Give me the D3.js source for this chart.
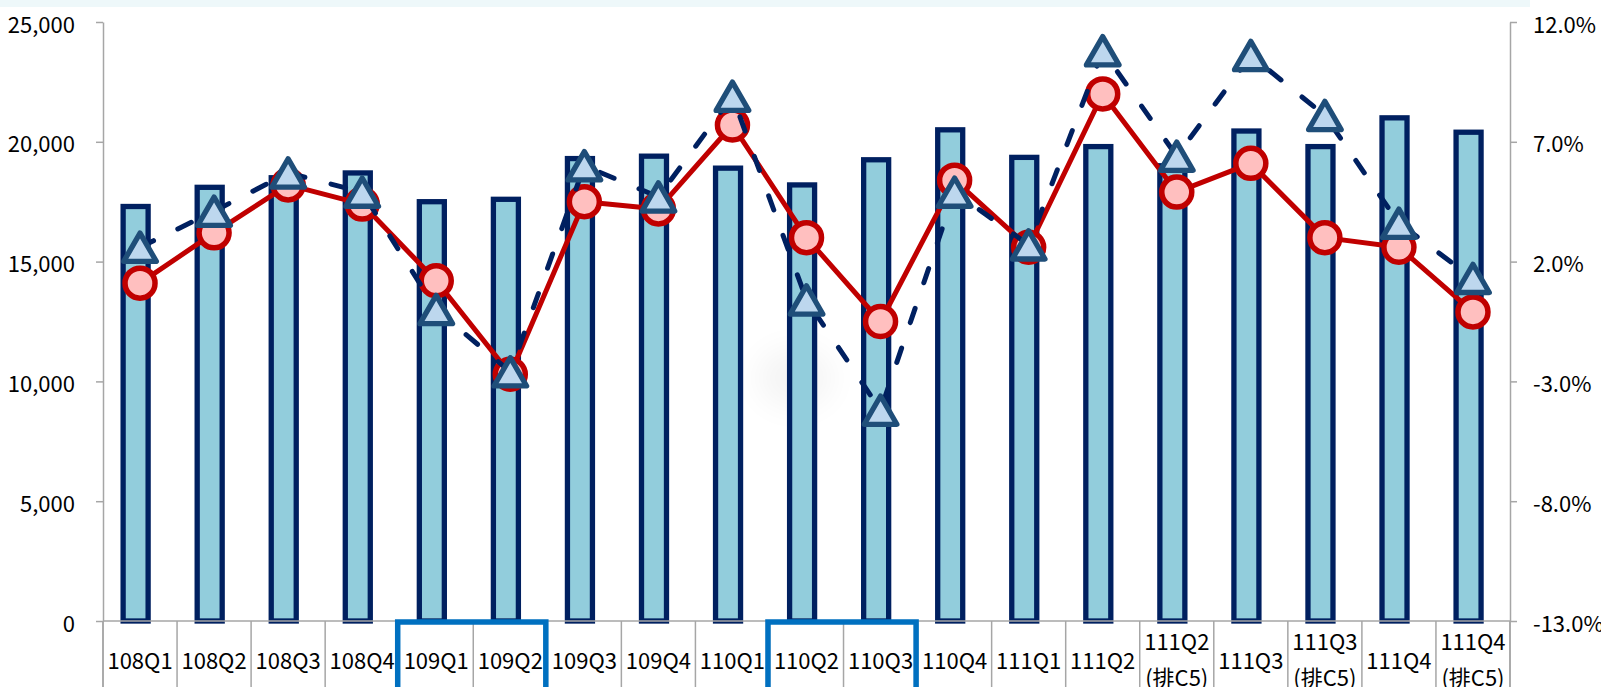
<!DOCTYPE html>
<html><head><meta charset="utf-8">
<script src="https://cdn.jsdelivr.net/npm/d3@7"></script>
<style>
html,body{margin:0;padding:0;background:#fff;overflow:hidden}
svg{display:block;font-family:"Noto Sans CJK TC","Noto Sans",sans-serif}
</style>
</head><body>
<svg id="chart" width="1601" height="687"></svg>
<script>
// ---- data ----
const categories = ["108Q1","108Q2","108Q3","108Q4","109Q1","109Q2","109Q3","109Q4","110Q1","110Q2","110Q3","110Q4","111Q1","111Q2","111Q2(排C5)","111Q3","111Q3(排C5)","111Q4","111Q4(排C5)"];
const barValues = [17300,18100,18500,18700,17500,17600,19300,19400,18900,18200,19250,20500,19350,19800,19000,20450,19800,21000,20400];
const circleSeries = [1.1,3.2,5.2,4.4,1.2,-2.7,4.5,4.2,7.7,3.0,-0.5,5.4,2.6,9.0,4.9,6.1,3.0,2.6,-0.1];
const triangleSeries = [2.6,4.1,5.7,4.9,0.0,-2.6,6.0,4.7,8.9,0.4,-4.2,4.9,2.7,10.8,6.4,10.6,8.1,3.6,1.3];
const leftTicks = [0,5000,10000,15000,20000,25000];
const rightTicks = [-13,-8,-3,2,7,12];
const highlightGroups = [["109Q1","109Q2"],["110Q2","110Q3"]];

// ---- layout ----
const W = 1601, H = 687;
const plotL = 103, plotR = 1510, plotT = 22, plotB = 621;
const svg = d3.select("#chart");

const x = d3.scaleBand().domain(categories).range([plotL, plotR]).padding(0);
const bw = x.bandwidth();
const cx = c => x(c) + bw / 2;
const yL = d3.scaleLinear().domain([0, 25000]).range([plotB, plotT]);
const yR = d3.scaleLinear().domain([-13, 12]).range([plotB, plotT]);

// top band
svg.append("rect").attr("x", 0).attr("y", 0).attr("width", 1530).attr("height", 7).attr("fill", "#eef8fa");

// faint smudge
const defs = svg.append("defs");
defs.append("filter").attr("id", "blur").attr("x", "-100%").attr("y", "-100%").attr("width", "300%").attr("height", "300%")
  .append("feGaussianBlur").attr("stdDeviation", 16);
svg.append("ellipse").attr("cx", 795).attr("cy", 378).attr("rx", 38).attr("ry", 30)
  .attr("fill", "#000").attr("opacity", 0.045).attr("filter", "url(#blur)");

// category separators below baseline
const gray = "#a6a6a6";
const bounds = categories.map(c => x(c)).concat([plotR]);
svg.append("g").selectAll("line").data(bounds).join("line")
  .attr("x1", d => d).attr("x2", d => d).attr("y1", plotB).attr("y2", H)
  .attr("stroke", gray).attr("stroke-width", 1.5);

// bars
const barW = 25, barShift = -4.4;
svg.append("g").selectAll("rect").data(categories).join("rect")
  .attr("x", (c) => cx(c) + barShift - barW / 2)
  .attr("y", (c, i) => yL(barValues[i]))
  .attr("width", barW)
  .attr("height", (c, i) => yL(0) - yL(barValues[i]))
  .attr("fill", "#92cddc")
  .attr("stroke", "#002060")
  .attr("stroke-width", 5.3);

// axes
const fontSize = 22;
const axL = svg.append("g").attr("transform", `translate(${plotL},0)`)
  .call(d3.axisLeft(yL).tickValues(leftTicks).tickFormat(d3.format(",")).tickSize(7).tickSizeOuter(0).tickPadding(21));
const axR = svg.append("g").attr("transform", `translate(${plotR},0)`)
  .call(d3.axisRight(yR).tickValues(rightTicks).tickFormat(d => d.toFixed(1) + "%").tickSize(7).tickSizeOuter(0).tickPadding(16));
[axL, axR].forEach(a => {
  a.select(".domain").attr("stroke", gray).attr("stroke-width", 1.5);
  a.selectAll(".tick line").attr("stroke", gray).attr("stroke-width", 1.5);
  a.selectAll(".tick text").attr("fill", "#000").attr("font-size", fontSize)
    .attr("font-family", '"Noto Sans CJK TC","Noto Sans",sans-serif')
    .attr("dy", null).attr("y", 0).attr("dominant-baseline", "central");
});
// axis lines continue below baseline
svg.append("line").attr("x1", plotL).attr("x2", plotL).attr("y1", plotB).attr("y2", H).attr("stroke", gray).attr("stroke-width", 1.5);
svg.append("line").attr("x1", plotR).attr("x2", plotR).attr("y1", plotB).attr("y2", H).attr("stroke", gray).attr("stroke-width", 1.5);
// baseline
svg.append("line").attr("x1", plotL).attr("x2", plotR).attr("y1", yL(0)).attr("y2", yL(0)).attr("stroke", gray).attr("stroke-width", 1.5);

// category labels
const lab = svg.append("g").attr("font-size", fontSize).attr("fill", "#000").attr("text-anchor", "middle");
categories.forEach(c => {
  const lines = c.split(/(?=\()/);
  if (lines.length === 1) {
    lab.append("text").attr("x", cx(c)).attr("y", 669).text(lines[0]);
  } else {
    lab.append("text").attr("x", cx(c)).attr("y", 650).text(lines[0]);
    lab.append("text").attr("x", cx(c)).attr("y", 686).text(lines[1]);
  }
});

// highlight boxes
svg.append("g").selectAll("rect").data(highlightGroups).join("rect")
  .attr("x", g => x(g[0]) - 1.5)
  .attr("y", plotB + 1)
  .attr("width", g => x(g[g.length - 1]) + bw - x(g[0]))
  .attr("height", 100)
  .attr("fill", "none")
  .attr("stroke", "#0070c0")
  .attr("stroke-width", 5.5);

// red line + circles
const lineR = d3.line().x((d, i) => cx(categories[i])).y(d => yR(d));
svg.append("path").datum(circleSeries).attr("d", lineR)
  .attr("fill", "none").attr("stroke", "#c00000").attr("stroke-width", 5).attr("stroke-linejoin", "round");
svg.append("g").selectAll("circle").data(circleSeries).join("circle")
  .attr("cx", (d, i) => cx(categories[i])).attr("cy", d => yR(d)).attr("r", 15)
  .attr("fill", "#ffbfbf").attr("stroke", "#c00000").attr("stroke-width", 5.5);

// dashed line + triangles
svg.append("path").datum(triangleSeries).attr("d", lineR)
  .attr("fill", "none").attr("stroke", "#002060").attr("stroke-width", 5)
  .attr("stroke-dasharray", "15,27").attr("stroke-linecap", "round").attr("stroke-linejoin", "round");
const th = 28.3, ta = 16.3;
svg.append("g").selectAll("path").data(triangleSeries).join("path")
  .attr("d", `M0,${-th / 2}L${ta},${th / 2}L${-ta},${th / 2}Z`)
  .attr("transform", (d, i) => `translate(${cx(categories[i])},${yR(d)})`)
  .attr("fill", "#bdd7ee").attr("stroke", "#1f4e79").attr("stroke-width", 5.3).attr("stroke-linejoin", "round");
</script>
</body></html>
